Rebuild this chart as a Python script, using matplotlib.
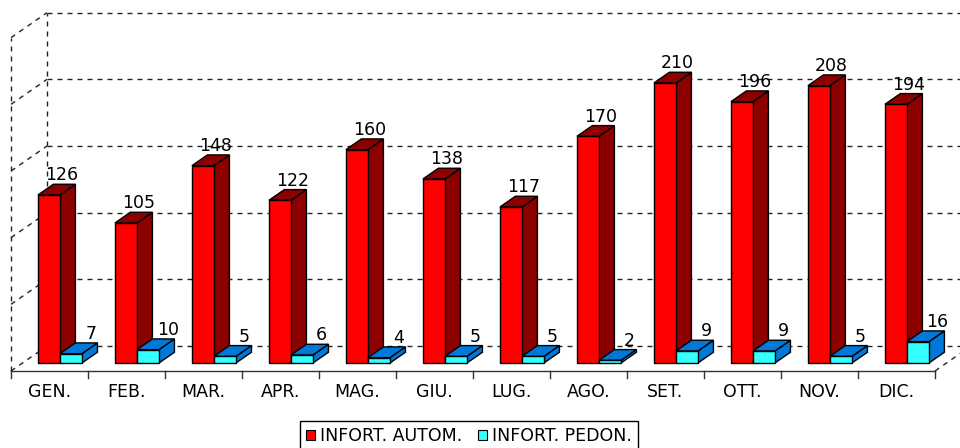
import matplotlib
matplotlib.use("Agg")
import matplotlib.pyplot as plt
from matplotlib.patches import Polygon, Patch

months = ["GEN.", "FEB.", "MAR.", "APR.", "MAG.", "GIU.",
          "LUG.", "AGO.", "SET.", "OTT.", "NOV.", "DIC."]
auto = [126, 105, 148, 122, 160, 138, 117, 170, 210, 196, 208, 194]
pedon = [7, 10, 5, 6, 4, 5, 5, 2, 9, 9, 5, 16]
series_names = ["INFORT. AUTOM.", "INFORT. PEDON."]
grid_values = [0, 50, 100, 150, 200, 250]

# depth of the 3d box (category units, value units)
DX, DY = 0.4675, 18.75
# bar depth slice and width
Z0, Z1 = 0.32, 0.75
W = 0.286

RED = ("#ff0000", "#8c0000", "#8c0000")     # front, top, side
CYAN = ("#33ffff", "#0078d8", "#0078d8")
FS = 12.5

plt.rcParams["font.family"] = ["DejaVu Sans"]

fig = plt.figure(figsize=(9.6, 4.48), dpi=100)
ax = fig.add_axes([0, 0, 1, 1])
ax.set_xlim(-0.643, 11.825)
ax.set_ylim(-57.75, 278.25)
ax.axis("off")

grid_kw = dict(color="#222222", lw=1, linestyle=(0, (3.6, 3.6)), zorder=1)
n = len(months)
left, right = -0.5, n - 0.5

# back wall and left wall
for v in grid_values:
    ax.plot([left + DX, right + DX], [v + DY, v + DY], **grid_kw)
    ax.plot([left, left + DX], [v, v + DY], **grid_kw)
ax.plot([left, left], [0, grid_values[-1]], **grid_kw)
ax.plot([left + DX, left + DX], [DY, grid_values[-1] + DY], **grid_kw)
ax.plot([right, right + DX], [0, DY], **grid_kw)

# front floor edge with ticks
ax.plot([left, right], [0, 0], color="#333333", lw=1, zorder=1)
for k in range(n + 1):
    ax.plot([left + k, left + k], [0, -5], color="#333333", lw=1, zorder=1)


def bar3d(x0, h, colors, label_dx):
    fx, fy = Z0 * DX, Z0 * DY
    bx, by = Z1 * DX, Z1 * DY
    x1 = x0 + W
    side = [(x1 + fx, fy), (x1 + bx, by), (x1 + bx, h + by), (x1 + fx, h + fy)]
    top = [(x0 + fx, h + fy), (x1 + fx, h + fy), (x1 + bx, h + by), (x0 + bx, h + by)]
    front = [(x0 + fx, fy), (x1 + fx, fy), (x1 + fx, h + fy), (x0 + fx, h + fy)]
    for pts, c in ((side, colors[2]), (top, colors[1]), (front, colors[0])):
        ax.add_patch(Polygon(pts, closed=True, facecolor=c, edgecolor="black",
                             lw=1, joinstyle="miter", zorder=3))
    ax.text(x0 + W / 2 + (fx + bx) / 2 + label_dx, h + by + 3, str(h),
            ha="center", va="baseline", fontsize=FS, color="black", zorder=4)


for i in range(n):
    bar3d(i - 0.3, auto[i], RED, 0.065)
    bar3d(i - 0.3 + W, pedon[i], CYAN, 0.155)
    ax.text(i, -15.5, months[i], ha="center", va="center", fontsize=FS)

handles = [Patch(facecolor=RED[0], edgecolor="black", lw=0.8, label=series_names[0]),
           Patch(facecolor=CYAN[0], edgecolor="black", lw=0.8, label=series_names[1])]
leg = fig.legend(handles=handles, loc="upper left",
                 bbox_to_anchor=(300 / 960, 1 - 421 / 448), ncol=2,
                 frameon=True, fancybox=False, edgecolor="black", framealpha=1,
                 fontsize=FS, handlelength=0.5, handleheight=0.5,
                 handletextpad=0.3, columnspacing=0.9, borderpad=0.35,
                 borderaxespad=0)
leg.get_frame().set_linewidth(1)

fig.savefig("out.png", dpi=100)
